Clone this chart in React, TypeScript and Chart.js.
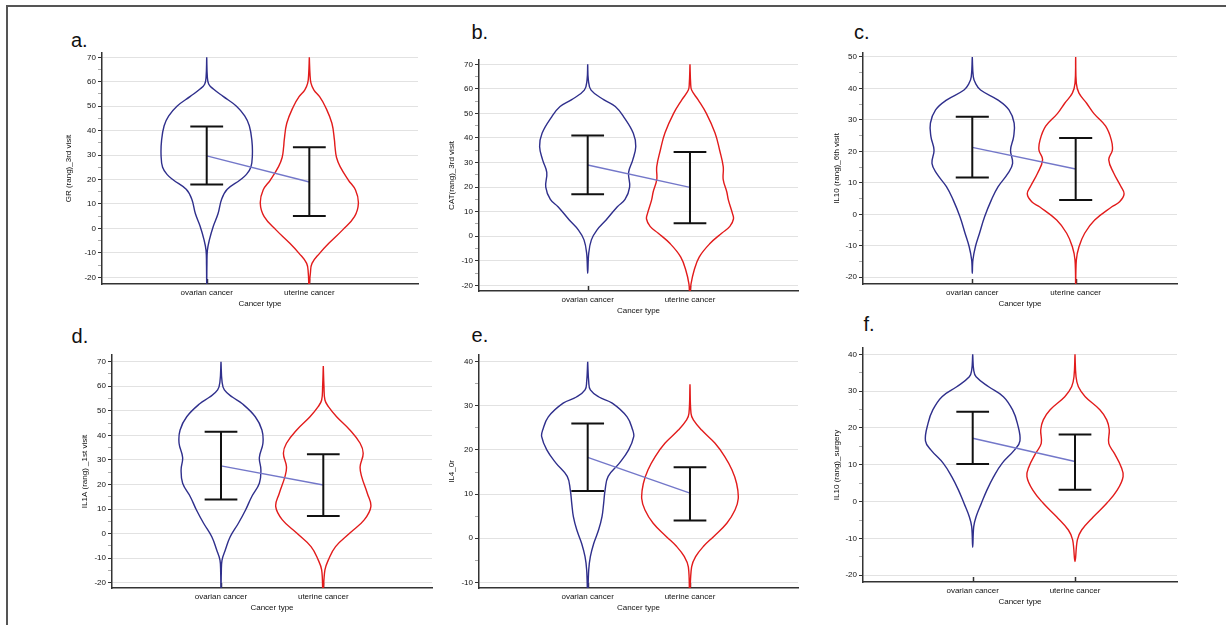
import { useEffect, useRef } from 'react';
import { Chart, registerables } from 'chart.js';

Chart.register(...registerables);

// ---------------- DATA ----------------
const categories = ['ovarian cancer', 'uterine cancer'];
const panelLetters = ['a.', 'b.', 'c.', 'd.', 'e.', 'f.'];
const xTitle = 'Cancer type';
const yTitles = [
  'GR (rang)_3rd visit',
  'CAT(rang)_3rd visit',
  'IL10 (rang)_6th visit',
  'IL1A (rang) _1st visit',
  'IL4_0r',
  'IL10 (rang)_surgery',
];

// error bar summaries (mean, lower, upper)
const meanOvarian = [29.7, 29.0, 21.3, 27.6, 18.3, 17.2];
const lowOvarian = [18.0, 17.1, 11.7, 13.9, 10.7, 10.2];
const highOvarian = [41.7, 41.0, 31.0, 41.5, 26.0, 24.4];
const meanUterine = [19.0, 19.9, 14.4, 19.8, 10.2, 10.9];
const lowUterine = [5.1, 5.3, 4.6, 7.2, 4.0, 3.2];
const highUterine = [33.2, 34.3, 24.3, 32.3, 16.1, 18.2];

// y axis ranges
const yMins = [-22.74, -22.32, -22.13, -22.16, -11.29, -21.82];
const yMaxs = [71.76, 71.75, 51.27, 72.73, 41.52, 41.71];

// violin profiles: [value, half-width in category units]
const violinA_ovarian = [[70, 0], [62, 0.006], [59, 0.02], [57, 0.065], [54, 0.16], [50, 0.29], [46, 0.37], [42, 0.415], [36, 0.44], [30, 0.445], [25, 0.43], [22, 0.385], [19.8, 0.325], [16, 0.2], [12, 0.146], [6, 0.11], [1, 0.065], [-4.7, 0.026], [-9, 0.0065], [-15, 0.002], [-24, 0]];
const violinA_uterine = [[70, 0], [63.5, 0.006], [59.4, 0.016], [56.6, 0.045], [53.9, 0.1], [49.8, 0.156], [43, 0.22], [36, 0.245], [33.5, 0.25], [29, 0.265], [25.3, 0.3], [19.8, 0.38], [15.7, 0.45], [10.3, 0.478], [4.8, 0.44], [-0.6, 0.325], [-6.1, 0.19], [-10.2, 0.1], [-14.3, 0.026], [-18.4, 0.01], [-24, 0.003]];
const violinB_ovarian = [[70, 0], [63.6, 0.0065], [59.5, 0.033], [55.5, 0.16], [52.8, 0.27], [48.7, 0.35], [41.9, 0.446], [36.5, 0.47], [31, 0.44], [26, 0.4], [20, 0.41], [15, 0.365], [12, 0.29], [6.6, 0.18], [2.5, 0.09], [-1.5, 0.036], [-7, 0.01], [-15.1, 0]];
const violinB_uterine = [[70, 0], [62.3, 0.0065], [59.5, 0.016], [55.5, 0.08], [50, 0.16], [42, 0.245], [35, 0.29], [28.3, 0.325], [23, 0.325], [18, 0.36], [14.8, 0.375], [9.3, 0.415], [7, 0.425], [4, 0.39], [1.2, 0.31], [-3, 0.195], [-8.5, 0.09], [-14, 0.04], [-19.5, 0.01], [-24, 0.003]];
const violinC_ovarian = [[50, 0], [43.7, 0.01], [41.6, 0.032], [39.5, 0.08], [36.3, 0.25], [33.2, 0.355], [29, 0.405], [24.7, 0.4], [20.4, 0.37], [16.2, 0.39], [13, 0.345], [8.8, 0.25], [4.6, 0.185], [-0.7, 0.12], [-6, 0.07], [-10.3, 0.03], [-14.5, 0.006], [-18.7, 0]];
const violinC_uterine = [[50, 0], [41.6, 0.0065], [38.5, 0.032], [35.3, 0.106], [32, 0.177], [28, 0.29], [23.6, 0.345], [20.4, 0.355], [17.3, 0.32], [13, 0.37], [9, 0.435], [6.5, 0.468], [4, 0.425], [2.4, 0.35], [-1.8, 0.184], [-6, 0.087], [-10.3, 0.032], [-14.5, 0.0065], [-24, 0]];
const violinD_ovarian = [[70, 0], [62, 0.01], [58.5, 0.033], [55.5, 0.114], [53, 0.205], [47.6, 0.335], [42.2, 0.4], [36.8, 0.41], [31, 0.375], [26, 0.39], [20.5, 0.375], [15, 0.3], [9.6, 0.24], [4.2, 0.17], [-1.3, 0.09], [-6.7, 0.042], [-10.8, 0.01], [-16, 0.003], [-24, 0]];
const violinD_uterine = [[68.2, 0], [60, 0.0065], [54.4, 0.016], [51.7, 0.05], [47.6, 0.13], [42.2, 0.26], [36.8, 0.36], [32.7, 0.39], [27.2, 0.36], [23.2, 0.375], [16.4, 0.43], [11, 0.465], [5.6, 0.4], [0.2, 0.26], [-5.3, 0.12], [-10.7, 0.05], [-14.8, 0.016], [-24, 0.003]];
const violinE_ovarian = [[40, 0], [35.5, 0.01], [33.6, 0.026], [32, 0.11], [30.6, 0.24], [27.5, 0.385], [24.5, 0.44], [23, 0.45], [20, 0.4], [17, 0.31], [14, 0.2], [10.9, 0.17], [7.9, 0.156], [4.9, 0.14], [1.9, 0.107], [-1.2, 0.059], [-4.2, 0.026], [-7.2, 0.01], [-13, 0]];
const violinE_uterine = [[34.9, 0], [28.3, 0.01], [26.8, 0.033], [24.5, 0.114], [21.5, 0.245], [18.5, 0.34], [15.5, 0.41], [12.4, 0.456], [9, 0.472], [6.4, 0.44], [3.4, 0.36], [0.35, 0.23], [-1.9, 0.13], [-4.2, 0.055], [-6.5, 0.016], [-13, 0.003]];
const violinF_ovarian = [[40, 0], [35.7, 0.01], [33.9, 0.033], [31.2, 0.156], [28.5, 0.3], [24.9, 0.39], [21.3, 0.436], [16.5, 0.462], [14, 0.407], [10.4, 0.287], [6.8, 0.205], [3.2, 0.14], [-0.45, 0.085], [-4.1, 0.033], [-6.8, 0.01], [-12.4, 0]];
const violinF_uterine = [[40, 0], [33.9, 0.01], [31.2, 0.033], [28.5, 0.1], [24.9, 0.245], [22.2, 0.31], [19.5, 0.335], [15.8, 0.33], [13.1, 0.385], [9.5, 0.45], [6.8, 0.47], [3.2, 0.414], [-0.45, 0.31], [-4.1, 0.18], [-7.7, 0.065], [-10.4, 0.023], [-16.3, 0]];

const ovarianViolins = [violinA_ovarian, violinB_ovarian, violinC_ovarian, violinD_ovarian, violinE_ovarian, violinF_ovarian];
const uterineViolins = [violinA_uterine, violinB_uterine, violinC_uterine, violinD_uterine, violinE_uterine, violinF_uterine];

// ---------------- LAYOUT / STYLE ----------------
const LAYOUT = [
  { x0: 102, y0: 53, x1: 418, y1: 284, xMin: -0.0205, xMax: 3.059, titlePad: 2.2, lx: 71, ly: 29.8 },
  { x0: 479, y0: 60, x1: 798, y1: 291, xMin: -0.0626, xMax: 3.056, titlePad: 7.9, lx: 471.4, ly: 22.4 },
  { x0: 863, y0: 53, x1: 1177, y1: 284, xMin: -0.057, xMax: 2.98, titlePad: 8.9, lx: 854, ly: 22.4 },
  { x0: 112, y0: 355, x1: 432, y1: 588, xMin: -0.0655, xMax: 3.0626, titlePad: 8.2, lx: 71.6, ly: 326.4 },
  { x0: 479, y0: 355, x1: 798, y1: 588, xMin: -0.0626, xMax: 3.056, titlePad: 7.9, lx: 471.6, ly: 324.8 },
  { x0: 863, y0: 348, x1: 1177, y1: 582, xMin: -0.0723, xMax: 2.997, titlePad: 8.9, lx: 863.4, ly: 313.8 },
];
const Y_AXIS_W = 40;
const X_AXIS_H = 28;
const PAD_TOP = 12;
const PAD_RIGHT = 4;
const FONT = "'Liberation Sans', Arial, Helvetica, sans-serif";
const TEXT = '#111';
const AXIS = '#333';
const BLUE = '#2f2f8c';
const RED = '#e21b1b';
const MEAN_LINE = '#7377c9';
const CAP = 0.16;

function outline(profile: number[][], c: number) {
  const left = profile.map(([v, w]) => ({ x: c - w, y: v }));
  const right = profile.slice(0, -1).reverse().map(([v, w]) => ({ x: c + w, y: v }));
  return [...left, ...right];
}

function errorBar(c: number, lo: number, hi: number) {
  return [
    { x: c - CAP, y: hi }, { x: c + CAP, y: hi }, { x: c, y: null },
    { x: c, y: hi }, { x: c, y: lo }, { x: c + 0.001, y: null },
    { x: c - CAP, y: lo }, { x: c + CAP, y: lo },
  ];
}

const innerTicks = {
  id: 'innerTicks',
  beforeDatasetsDraw(chart: any) {
    const { ctx, chartArea, scales } = chart;
    ctx.save();
    ctx.strokeStyle = AXIS;
    ctx.lineWidth = 1.5;
    [1, 2].forEach((v) => {
      const px = Math.round(scales.x.getPixelForValue(v)) + 0.5;
      ctx.beginPath();
      ctx.moveTo(px, chartArea.bottom);
      ctx.lineTo(px, chartArea.bottom - 5);
      ctx.stroke();
    });
    ctx.restore();
  },
};

function Panel({ i }: { i: number }) {
  const ref = useRef<HTMLCanvasElement | null>(null);
  const L = LAYOUT[i];
  const w = L.x1 - L.x0 + Y_AXIS_W + PAD_RIGHT;
  const h = L.y1 - L.y0 + PAD_TOP + X_AXIS_H;

  useEffect(() => {
    if (!ref.current) return;
    const font = { family: FONT, size: 8 };
    const chart = new Chart(ref.current, {
      type: 'line',
      data: {
        datasets: [
          { data: errorBar(1, lowOvarian[i], highOvarian[i]) as any, borderColor: '#111', borderWidth: 2, tension: 0, spanGaps: false, order: 0 },
          { data: errorBar(2, lowUterine[i], highUterine[i]) as any, borderColor: '#111', borderWidth: 2, tension: 0, spanGaps: false, order: 0 },
          { data: [{ x: 1, y: meanOvarian[i] }, { x: 2, y: meanUterine[i] }], borderColor: MEAN_LINE, borderWidth: 1.4, tension: 0, order: 1 },
          { data: outline(ovarianViolins[i], 1), borderColor: BLUE, borderWidth: 1.4, tension: 0.4, order: 2 },
          { data: outline(uterineViolins[i], 2), borderColor: RED, borderWidth: 1.4, tension: 0.4, order: 2 },
        ],
      },
      options: {
        animation: false,
        responsive: false,
        devicePixelRatio: 1,
        events: [],
        layout: { padding: { top: PAD_TOP, right: PAD_RIGHT, left: 0, bottom: 0 } },
        plugins: { legend: { display: false }, tooltip: { enabled: false }, title: { display: false } },
        elements: { point: { radius: 0, hoverRadius: 0 }, line: { fill: false } },
        scales: {
          x: {
            type: 'linear',
            min: L.xMin,
            max: L.xMax,
            afterBuildTicks: (s: any) => { s.ticks = [{ value: 1 }, { value: 2 }]; },
            afterFit: (s: any) => { s.height = X_AXIS_H; },
            ticks: {
              callback: (v: any) => categories[Math.round(Number(v)) - 1] ?? '',
              font, color: TEXT, padding: 3.5, autoSkip: false, maxRotation: 0,
            },
            grid: { display: false, drawTicks: false },
            border: { display: true, color: AXIS, width: 1.5 },
            title: { display: true, text: xTitle, font, color: TEXT, padding: { top: 0, bottom: 3.2 } },
          },
          y: {
            type: 'linear',
            min: yMins[i],
            max: yMaxs[i],
            afterBuildTicks: (s: any) => {
              const t: any[] = [];
              for (let v = Math.ceil(s.min / 5) * 5; v <= s.max; v += 5) t.push({ value: v });
              s.ticks = t;
            },
            afterFit: (s: any) => { s.width = Y_AXIS_W; },
            ticks: {
              callback: (v: any) => (Math.round(Number(v)) % 10 === 0 ? String(Math.round(Number(v))) : ''),
              font, color: TEXT, padding: 2, autoSkip: false,
            },
            grid: {
              color: (c: any) => (Math.round(c.tick.value) % 10 === 0 ? '#e2e2e2' : 'rgba(0,0,0,0)'),
              tickColor: (c: any) => (Math.round(c.tick.value) % 10 === 0 ? AXIS : '#aaa'),
              tickLength: 4,
              lineWidth: 1,
            },
            border: { display: true, color: AXIS, width: 1.5 },
            title: { display: true, text: yTitles[i], font, color: TEXT, padding: { top: L.titlePad, bottom: 0 } },
          },
        },
      } as any,
      plugins: [innerTicks],
    });
    return () => chart.destroy();
  }, [i]);

  return (
    <canvas
      ref={ref}
      width={w}
      height={h}
      style={{ position: 'absolute', left: L.x0 - Y_AXIS_W, top: L.y0 - PAD_TOP, width: w, height: h, display: 'block' }}
    />
  );
}

export default function App() {
  return (
    <div style={{ position: 'absolute', left: 0, top: 0, width: 1226, height: 625, overflow: 'hidden', background: '#fff' }}>
      <div style={{ position: 'absolute', left: 6, top: 5, width: 1240, height: 640, borderTop: '2px solid #555', borderLeft: '2px solid #555' }} />
      {LAYOUT.map((L, i) => (
        <div
          key={'l' + i}
          style={{ position: 'absolute', left: L.lx, top: L.ly, fontFamily: FONT, fontSize: 20, lineHeight: '20px', color: '#111', whiteSpace: 'nowrap' }}
        >
          {panelLetters[i]}
        </div>
      ))}
      {LAYOUT.map((_, i) => (
        <Panel key={i} i={i} />
      ))}
    </div>
  );
}
